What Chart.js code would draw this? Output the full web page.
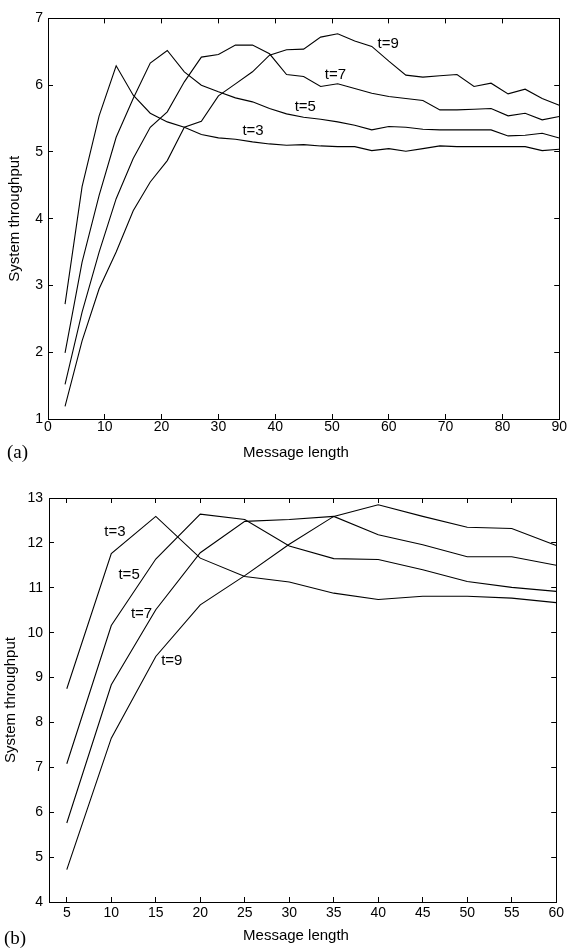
<!DOCTYPE html>
<html>
<head>
<meta charset="utf-8">
<script src="https://cdn.jsdelivr.net/npm/chart.js@4.4.0/dist/chart.umd.min.js"></script>
<style>
  html, body { margin: 0; padding: 0; background: #fff; }
  #wrap-a { position: absolute; left: 0; top: 0; width: 572px; height: 470px; }
  #wrap-b { position: absolute; left: 0; top: 470px; width: 572px; height: 478px; }
</style>
</head>
<body>
<div id="wrap-a"><canvas id="chart-a"></canvas></div>
<div id="wrap-b"><canvas id="chart-b"></canvas></div>
<script>
/************************ data for panel (a) *********************************/

const lenA = [3, 6, 9, 12, 15, 18, 21, 24, 27, 30, 33, 36, 39, 42, 45,
  48, 51, 54, 57, 60, 63, 66, 69, 72, 75, 78, 81, 84, 87, 90];
const a_t3 = [2.72, 4.48, 5.54, 6.29, 5.85, 5.58, 5.45, 5.37, 5.26, 5.21, 5.19, 5.15, 5.12, 5.10, 5.11,
  5.09, 5.08, 5.08, 5.02, 5.05, 5.01, 5.05, 5.09, 5.08, 5.08, 5.08, 5.08, 5.08, 5.02, 5.04];
const a_t5 = [1.99, 3.35, 4.35, 5.22, 5.80, 6.33, 6.52, 6.20, 6.00, 5.90, 5.81, 5.75, 5.65, 5.57, 5.52,
  5.49, 5.45, 5.40, 5.33, 5.38, 5.37, 5.34, 5.33, 5.33, 5.33, 5.33, 5.24, 5.25, 5.28, 5.21];
const a_t7 = [1.52, 2.60, 3.50, 4.30, 4.90, 5.37, 5.60, 6.05, 6.42, 6.46, 6.60, 6.60, 6.47, 6.16, 6.13,
  5.98, 6.02, 5.95, 5.88, 5.83, 5.80, 5.77, 5.63, 5.63, 5.64, 5.65, 5.54, 5.58, 5.48, 5.53];
const a_t9 = [1.19, 2.17, 2.95, 3.50, 4.12, 4.55, 4.87, 5.37, 5.46, 5.84, 6.02, 6.20, 6.45, 6.53, 6.54,
  6.72, 6.77, 6.66, 6.58, 6.36, 6.15, 6.12, 6.14, 6.16, 5.98, 6.03, 5.87, 5.94, 5.80, 5.70];

/************************ data for panel (b) *********************************/

const lenB = [5, 10, 15, 20, 25, 30, 35, 40, 45, 50, 55, 60];
const b_t3 = [8.75, 11.76, 12.59, 11.66, 11.25, 11.13, 10.88, 10.74, 10.81, 10.81, 10.77, 10.67];
const b_t5 = [7.08, 10.16, 11.64, 12.64, 12.52, 11.93, 11.65, 11.63, 11.40, 11.14, 11.01, 10.92];
const b_t7 = [5.76, 8.84, 10.51, 11.78, 12.48, 12.52, 12.59, 12.18, 11.96, 11.69, 11.69, 11.50];
const b_t9 = [4.72, 7.65, 9.47, 10.62, 11.27, 11.97, 12.59, 12.85, 12.59, 12.35, 12.32, 11.94];

// curve names and where they are written (data units)
const seriesNames = ["t=3", "t=5", "t=7", "t=9"];
const tagPosA = [[36.1, 5.31], [45.3, 5.67], [50.6, 6.15], [59.9, 6.62]];
const tagPosB = [[10.4, 12.24], [12.0, 11.29], [13.4, 10.41], [16.8, 9.38]];

/************************ shared bits *********************************/

const SANS = '"Liberation Sans", Arial, Helvetica, sans-serif';
const tickFont = { family: SANS, size: 14 };

function pts(xs, ys) {
  return xs.map((x, i) => ({ x: x, y: ys[i] }));
}

function lineSet(label, xs, ys) {
  return {
    label: label,
    data: pts(xs, ys),
    borderColor: "#000",
    borderWidth: 1.1,
    pointRadius: 0,
    tension: 0,
    fill: false,
  };
}

// writes the t=.. labels, the x title and the panel letter
const panelText = {
  id: "panelText",
  afterDatasetsDraw(chart, args, opts) {
    const ctx = chart.ctx;
    const xs = chart.scales.x;
    const ys = chart.scales.y;
    ctx.save();
    ctx.fillStyle = "#000";
    ctx.font = "15px " + SANS;
    ctx.textAlign = "center";
    ctx.textBaseline = "middle";
    opts.names.forEach((n, i) => {
      ctx.fillText(n, xs.getPixelForValue(opts.pos[i][0]), ys.getPixelForValue(opts.pos[i][1]));
    });
    ctx.textBaseline = "alphabetic";
    ctx.fillText("Message length", opts.titleX, opts.titleY);
    ctx.font = '19px "Liberation Serif", "Times New Roman", serif';
    ctx.textAlign = "left";
    ctx.fillText(opts.letter, opts.letterX, opts.letterY);
    ctx.restore();
  },
};

// x / y axes with the boxed, inward-tick look
function makeScales(xmin, xmax, xstep, ymin, ymax, yLeft, xHeight, xPad, yPad, yTitlePad) {
  const tickGrid = { drawOnChartArea: false, drawTicks: true, tickLength: -5, color: "#000", lineWidth: 1 };
  const edge = { display: true, color: "#000", width: 1 };
  return {
    x: {
      type: "linear", position: "bottom", min: xmin, max: xmax,
      ticks: { stepSize: xstep, includeBounds: false, padding: xPad, color: "#000", font: tickFont, maxRotation: 0 },
      grid: tickGrid, border: edge,
      afterFit: (s) => { s.height = xHeight; },
    },
    x2: {
      type: "linear", position: "top", min: xmin, max: xmax,
      ticks: { stepSize: xstep, includeBounds: false, display: false },
      grid: tickGrid, border: edge,
      afterFit: (s) => { s.height = 0; },
    },
    y: {
      type: "linear", position: "left", min: ymin, max: ymax,
      ticks: { stepSize: 1, padding: yPad, color: "#000", font: tickFont },
      grid: tickGrid, border: edge,
      title: { display: true, text: "System throughput", color: "#000", font: { family: SANS, size: 15 }, padding: { top: yTitlePad, bottom: 0 } },
      afterFit: (s) => { s.width = yLeft; },
    },
    y2: {
      type: "linear", position: "right", min: ymin, max: ymax,
      ticks: { stepSize: 1, display: false },
      grid: tickGrid, border: edge,
      afterFit: (s) => { s.width = 0; },
    },
  };
}

/************************* CHART (a) ******************************/

const ctxA = document.getElementById("chart-a").getContext("2d");
const chartA = new Chart(ctxA, {
  type: "line",
  data: {
    datasets: [
      lineSet(seriesNames[0], lenA, a_t3),
      lineSet(seriesNames[1], lenA, a_t5),
      lineSet(seriesNames[2], lenA, a_t7),
      lineSet(seriesNames[3], lenA, a_t9),
    ],
  },
  options: {
    responsive: true,
    maintainAspectRatio: false,
    animation: false,
    layout: { padding: { top: 15, right: 9, left: 0, bottom: 0 } },
    scales: makeScales(0, 90, 10, 1, 7, 48, 51, 5, 10, 6),
    plugins: {
      legend: { display: false },
      tooltip: { enabled: false },
      panelText: { names: seriesNames, pos: tagPosA, titleX: 296, titleY: 456.5, letter: "(a)", letterX: 7, letterY: 457.5 },
    },
  },
  plugins: [panelText],
});

/************************* CHART (b) ******************************/

const ctxB = document.getElementById("chart-b").getContext("2d");
const chartB = new Chart(ctxB, {
  type: "line",
  data: {
    datasets: [
      lineSet(seriesNames[0], lenB, b_t3),
      lineSet(seriesNames[1], lenB, b_t5),
      lineSet(seriesNames[2], lenB, b_t7),
      lineSet(seriesNames[3], lenB, b_t9),
    ],
  },
  options: {
    responsive: true,
    maintainAspectRatio: false,
    animation: false,
    layout: { padding: { top: 28, right: 9, left: 0, bottom: 0 } },
    scales: makeScales(3, 60, 5, 4, 13, 49, 46, 8, 11, 2),
    plugins: {
      legend: { display: false },
      tooltip: { enabled: false },
      panelText: { names: seriesNames, pos: tagPosB, titleX: 296, titleY: 469.5, letter: "(b)", letterX: 4, letterY: 474 },
    },
  },
  plugins: [panelText],
});
</script>
</body>
</html>
